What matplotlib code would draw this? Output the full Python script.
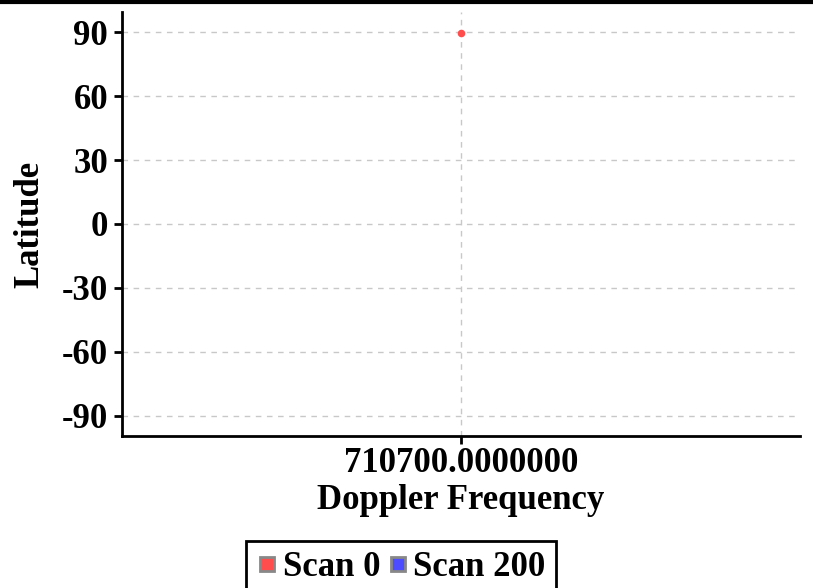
import matplotlib
matplotlib.use("Agg")
import matplotlib.pyplot as plt
from matplotlib.lines import Line2D

plt.rcParams['font.family'] = ['Liberation Serif', 'DejaVu Serif']
plt.rcParams['font.weight'] = 'bold'

series = ["Scan 0", "Scan 200"]
colors = ["#ff4d4d", "#4d4dff"]
scan0_freq = [710700.0]
scan0_lat = [89.5]
scan200_freq = []
scan200_lat = []
yticks = [90, 60, 30, 0, -30, -60, -90]
xticks = [710700.0]

fig = plt.figure(figsize=(8.13, 5.88), dpi=100)
ax = fig.add_axes([122/813, 1-436/588, (800-122)/813, (436-12)/588])

ax.scatter(scan0_freq, scan0_lat, s=30, color=colors[0], zorder=3, linewidths=0)
ax.scatter(scan200_freq, scan200_lat, s=30, color=colors[1], zorder=3, linewidths=0)

ax.set_ylim(-99.4, 99.4)
ax.set_xlim(710699.0, 710701.0)
ax.set_yticks(yticks)
ax.set_yticklabels([str(v) for v in yticks])
ax.set_xticks(xticks)
ax.set_xticklabels(["%.7f" % v for v in xticks])
ax.grid(True, color="#c8c8c8", linestyle=(0, (4, 4)), linewidth=1)
ax.set_axisbelow(True)
for s in ["top", "right"]:
    ax.spines[s].set_visible(False)
for s in ["left", "bottom"]:
    ax.spines[s].set_linewidth(2)
ax.tick_params(axis='both', labelsize=25, width=2, length=6, pad=4)
ax.tick_params(axis='x', pad=2)
ax.set_xlabel("Doppler Frequency", fontsize=25, fontweight='bold', labelpad=3)
ax.set_ylabel("Latitude", fontsize=25, fontweight='bold', labelpad=11)

handles = [Line2D([], [], marker='s', linestyle='none', markersize=10,
                  markerfacecolor=c, markeredgecolor='#888888', markeredgewidth=2)
           for c in colors]
leg = fig.legend(handles, series, loc='upper center', bbox_to_anchor=(0.4935, 1-541/588),
                 ncol=2, frameon=True, fancybox=False, fontsize=25, handletextpad=0.15,
                 columnspacing=0.2, handlelength=0.6, borderpad=0.3, borderaxespad=0,
                 edgecolor='black', framealpha=1)
leg.get_frame().set_linewidth(2)

fig.add_artist(Line2D([0, 1], [1-1.5/588, 1-1.5/588], color='black', linewidth=3,
                      transform=fig.transFigure))

fig.savefig("out.png", dpi=100)
